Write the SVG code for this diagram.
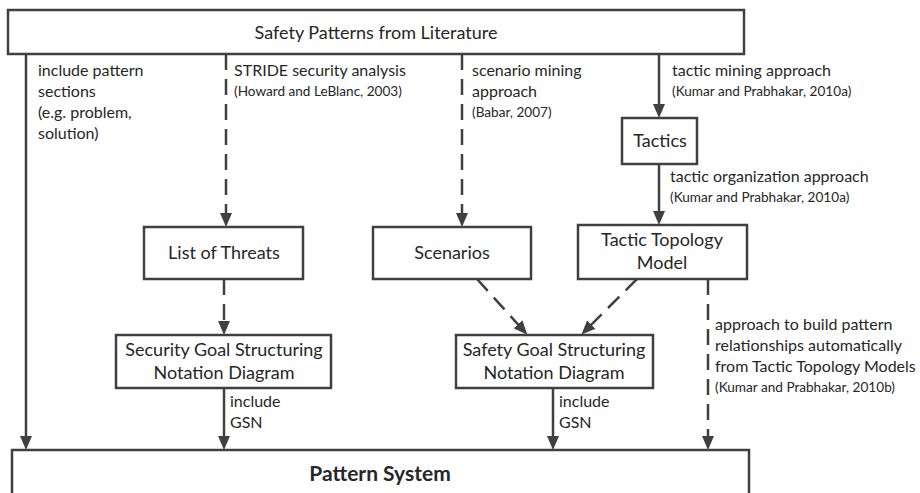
<svg xmlns="http://www.w3.org/2000/svg" width="920" height="493" viewBox="0 0 920 493">
  <style>
    .box { fill: #ffffff; stroke: #404040; stroke-width: 2.5; }
    .node { font-family: Lato, "Liberation Sans", sans-serif; font-size: 18px; fill: #262626; text-anchor: middle; }
    .title { font-weight: bold; font-size: 21px; }
    .lbl { font-family: Lato, "Liberation Sans", sans-serif; font-size: 16px; fill: #262626; }
    .ref { font-family: Lato, "Liberation Sans", sans-serif; font-size: 13.6px; fill: #262626; }
    .edge { fill: none; stroke: #404040; stroke-width: 2.5; marker-end: url(#arrow); }
    .dash { stroke-dasharray: 16 9; }
  </style>
  <defs>
    <marker id="arrow" viewBox="0 0 14 12" refX="9" refY="6" markerWidth="14" markerHeight="12" markerUnits="userSpaceOnUse" orient="auto">
      <path d="M0,0 L14,6 L0,12 z" fill="#404040"/>
    </marker>
  </defs>
  <rect width="920" height="493" fill="#ffffff"/>

  <g id="literature">
    <rect class="box" x="8" y="10" width="736" height="44"/>
    <text class="node" x="376" y="39">Safety Patterns from Literature</text>
  </g>

  <g id="pattern-system">
    <rect class="box" x="12" y="450" width="737" height="60"/>
    <text class="node title" x="380" y="481">Pattern System</text>
  </g>

  <g id="tactics">
    <rect class="box" x="622" y="118" width="75" height="46"/>
    <text class="node" x="660" y="147">Tactics</text>
  </g>

  <g id="list-of-threats">
    <rect class="box" x="144" y="227" width="159" height="52"/>
    <text class="node" x="224" y="259">List of Threats</text>
  </g>

  <g id="scenarios">
    <rect class="box" x="373" y="227" width="158" height="52"/>
    <text class="node" x="452" y="259">Scenarios</text>
  </g>

  <g id="tactic-topology-model">
    <rect class="box" x="578" y="225" width="169" height="54"/>
    <text class="node" x="662" y="246">Tactic Topology</text>
    <text class="node" x="662" y="269">Model</text>
  </g>

  <g id="security-gsn">
    <rect class="box" x="116" y="335" width="215" height="53"/>
    <text class="node" x="224" y="356">Security Goal Structuring</text>
    <text class="node" x="224" y="379">Notation Diagram</text>
  </g>

  <g id="safety-gsn">
    <rect class="box" x="456" y="335" width="197" height="53"/>
    <text class="node" x="554" y="356">Safety Goal Structuring</text>
    <text class="node" x="554" y="379">Notation Diagram</text>
  </g>

  <g id="connectors">
    <path class="edge" d="M26,54 V445"/>
    <path class="edge dash" d="M226,54 V222"/>
    <path class="edge dash" d="M462,54 V222"/>
    <path class="edge" d="M659,54 V113"/>
    <path class="edge" d="M659,164 V220"/>
    <path class="edge dash" d="M224,279 V330"/>
    <path class="edge dash" d="M477,279 L524,331"/>
    <path class="edge dash" d="M637,279 L585,331"/>
    <path class="edge" d="M224,388 V445"/>
    <path class="edge" d="M553,388 V445"/>
    <path class="edge dash" d="M708,279 V445"/>
  </g>

  <g id="labels">
    <text class="lbl" x="38" y="76">include pattern</text>
    <text class="lbl" x="38" y="97">sections</text>
    <text class="lbl" x="38" y="118">(e.g. problem,</text>
    <text class="lbl" x="38" y="139">solution)</text>

    <text class="lbl" x="234" y="76">STRIDE security analysis</text>
    <text class="ref" x="234" y="96">(Howard and LeBlanc, 2003)</text>

    <text class="lbl" x="472" y="76">scenario mining</text>
    <text class="lbl" x="472" y="97">approach</text>
    <text class="ref" x="472" y="117">(Babar, 2007)</text>

    <text class="lbl" x="672" y="76">tactic mining approach</text>
    <text class="ref" x="672" y="96">(Kumar and Prabhakar, 2010a)</text>

    <text class="lbl" x="670" y="182">tactic organization approach</text>
    <text class="ref" x="670" y="202">(Kumar and Prabhakar, 2010a)</text>

    <text class="lbl" x="715" y="330">approach to build pattern</text>
    <text class="lbl" x="715" y="351">relationships automatically</text>
    <text class="lbl" x="715" y="372">from Tactic Topology Models</text>
    <text class="ref" x="715" y="392">(Kumar and Prabhakar, 2010b)</text>

    <text class="lbl" x="230" y="407">include</text>
    <text class="lbl" x="230" y="428">GSN</text>
    <text class="lbl" x="559" y="407">include</text>
    <text class="lbl" x="559" y="428">GSN</text>
  </g>
</svg>
